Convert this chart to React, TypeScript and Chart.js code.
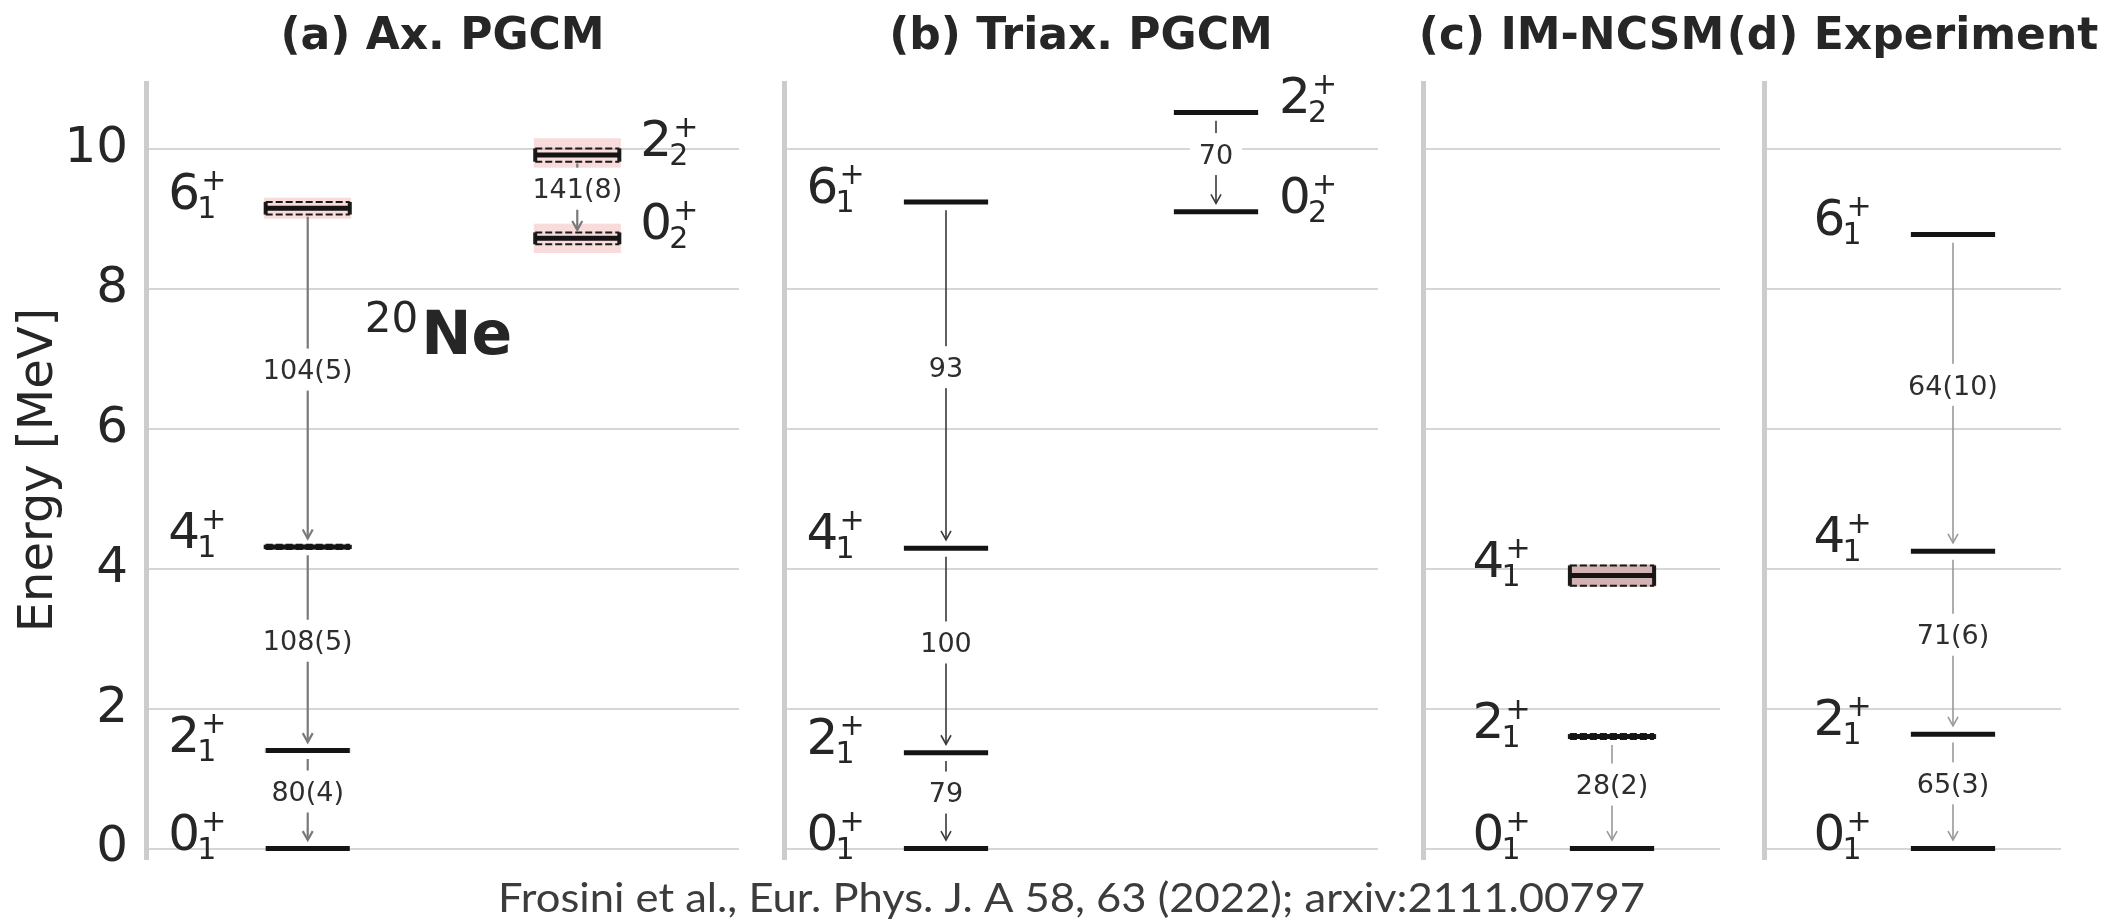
import { useEffect, useRef } from 'react';
import { Chart, registerables } from 'chart.js';

Chart.register(...registerables);

const PAGE_W = 2126;
const PAGE_H = 923;

// Energy axis (MeV)
const Y_MIN = -0.15;
const Y_MAX = 10.94;
const TICK_VALUES = [0, 2, 4, 6, 8, 10];
const TICK_LABELS = ['0', '2', '4', '6', '8', '10'];

const PANEL_TITLES = ['(a) Ax. PGCM', '(b) Triax. PGCM', '(c) IM-NCSM', '(d) Experiment'];

// (a) Axial PGCM: levels (spin, index, energy, outer band, inner error, column)
const AX_SPINS = ['0', '2', '4', '6', '0', '2'];
const AX_INDICES = ['1', '1', '1', '1', '2', '2'];
const AX_ENERGIES = [0, 1.4, 4.31, 9.15, 8.72, 9.91];
const AX_BAND = [0, 0.03, 0.045, 0.15, 0.21, 0.24];
const AX_ERR = [0, 0, 0.03, 0.09, 0.085, 0.095];
const AX_COLUMN = [0, 0, 0, 0, 1, 1];
const AX_FROM = [3, 2, 1, 5];
const AX_TO = [2, 1, 0, 4];
const AX_BE2 = ['104(5)', '108(5)', '80(4)', '141(8)'];

// (b) Triaxial PGCM
const TRI_SPINS = ['0', '2', '4', '6', '0', '2'];
const TRI_INDICES = ['1', '1', '1', '1', '2', '2'];
const TRI_ENERGIES = [0, 1.37, 4.29, 9.24, 9.1, 10.52];
const TRI_BAND = [0, 0, 0, 0, 0, 0];
const TRI_ERR = [0, 0, 0, 0, 0, 0];
const TRI_COLUMN = [0, 0, 0, 0, 1, 1];
const TRI_FROM = [3, 2, 1, 5];
const TRI_TO = [2, 1, 0, 4];
const TRI_BE2 = ['93', '100', '79', '70'];

// (c) IM-NCSM
const NCSM_SPINS = ['0', '2', '4'];
const NCSM_INDICES = ['1', '1', '1'];
const NCSM_ENERGIES = [0, 1.6, 3.9];
const NCSM_BAND = [0, 0, 0.16];
const NCSM_ERR = [0, 0.035, 0.145];
const NCSM_COLUMN = [0, 0, 0];
const NCSM_FROM = [1];
const NCSM_TO = [0];
const NCSM_BE2 = ['28(2)'];

// (d) Experiment
const EXP_SPINS = ['0', '2', '4', '6'];
const EXP_INDICES = ['1', '1', '1', '1'];
const EXP_ENERGIES = [0, 1.634, 4.248, 8.776];
const EXP_BAND = [0, 0, 0, 0];
const EXP_ERR = [0, 0, 0, 0];
const EXP_COLUMN = [0, 0, 0, 0];
const EXP_FROM = [3, 2, 1];
const EXP_TO = [2, 1, 0];
const EXP_BE2 = ['64(10)', '71(6)', '65(3)'];

const FOOTER = 'Frosini et al., Eur. Phys. J. A 58, 63 (2022); arxiv:2111.00797';

// Layout (pixels)
const PANEL_LEFT = [146, 784, 1423, 1764];
const PANEL_RIGHT = [739, 1378, 1720, 2061];
const PLOT_TOP = 83;
const PLOT_BOTTOM = 859;
const TICK_AXIS_W = 140; // room reserved for the tick labels of the first panel

const BAR_HALF = 0.78; // half length of a level bar, x units
const GAP = 0.12; // MeV between a level and its transition line
const LABEL_FS = 27;
const TEXT = '#262626';
const FONT = '"DejaVu Sans", sans-serif';

type Panel = {
  title: string;
  xMax: number;
  columns: number[];
  spins: string[];
  indices: string[];
  energies: number[];
  band: number[];
  err: number[];
  column: number[];
  from: number[];
  to: number[];
  labels: string[];
  lineColor: string;
  lineWidth: number;
  bandColor: string;
  showTicks: boolean;
};

const PANELS: Panel[] = [
  {
    title: PANEL_TITLES[0], xMax: 11, columns: [3, 8],
    spins: AX_SPINS, indices: AX_INDICES, energies: AX_ENERGIES, band: AX_BAND, err: AX_ERR, column: AX_COLUMN,
    from: AX_FROM, to: AX_TO, labels: AX_BE2,
    lineColor: '#7a7a7a', lineWidth: 2.2, bandColor: 'rgba(235,150,150,0.34)', showTicks: true,
  },
  {
    title: PANEL_TITLES[1], xMax: 11, columns: [3, 8],
    spins: TRI_SPINS, indices: TRI_INDICES, energies: TRI_ENERGIES, band: TRI_BAND, err: TRI_ERR, column: TRI_COLUMN,
    from: TRI_FROM, to: TRI_TO, labels: TRI_BE2,
    lineColor: '#3a3a3a', lineWidth: 1.6, bandColor: 'rgba(235,150,150,0.34)', showTicks: false,
  },
  {
    title: PANEL_TITLES[2], xMax: 5.5, columns: [3.5],
    spins: NCSM_SPINS, indices: NCSM_INDICES, energies: NCSM_ENERGIES, band: NCSM_BAND, err: NCSM_ERR, column: NCSM_COLUMN,
    from: NCSM_FROM, to: NCSM_TO, labels: NCSM_BE2,
    lineColor: '#9a9a9a', lineWidth: 1.6, bandColor: '#d4b3b3', showTicks: false,
  },
  {
    title: PANEL_TITLES[3], xMax: 5.5, columns: [3.5],
    spins: EXP_SPINS, indices: EXP_INDICES, energies: EXP_ENERGIES, band: EXP_BAND, err: EXP_ERR, column: EXP_COLUMN,
    from: EXP_FROM, to: EXP_TO, labels: EXP_BE2,
    lineColor: '#9a9a9a', lineWidth: 1.6, bandColor: '#d4b3b3', showTicks: false,
  },
];

function seg(x0: number, y0: number, x1: number, y1: number, extra: Record<string, unknown>) {
  return {
    data: [{ x: x0, y: y0 }, { x: x1, y: y1 }],
    showLine: true,
    pointRadius: 0,
    pointHoverRadius: 0,
    fill: false,
    ...extra,
  };
}

function buildDatasets(p: Panel) {
  const ds: any[] = [];
  p.energies.forEach((e, i) => {
    const c = p.columns[p.column[i]];
    const x0 = c - BAR_HALF;
    const x1 = c + BAR_HALF;
    if (p.band[i] > 0) {
      ds.push(seg(x0 - 0.03, e + p.band[i], x1 + 0.03, e + p.band[i], {
        borderColor: 'rgba(0,0,0,0)', borderWidth: 1, backgroundColor: p.bandColor,
        fill: { value: e - p.band[i] }, order: 6,
      }));
    }
    if (p.err[i] > 0) {
      for (const s of [1, -1]) {
        ds.push(seg(x0, e + s * p.err[i], x1, e + s * p.err[i], {
          borderColor: '#1a1a1a', borderWidth: 2, borderDash: [7, 3], order: 4,
        }));
      }
      for (const xe of [x0, x1]) {
        ds.push(seg(xe, e - p.err[i], xe, e + p.err[i], { borderColor: '#1a1a1a', borderWidth: 4, order: 3 }));
      }
    }
    ds.push(seg(x0, e, x1, e, { borderColor: '#141414', borderWidth: 5, order: 2 }));
  });
  p.from.forEach((f, k) => {
    const t = p.to[k];
    const c = p.columns[p.column[f]];
    ds.push(seg(c, p.energies[f] - GAP, c, p.energies[t] + GAP, {
      borderColor: p.lineColor, borderWidth: p.lineWidth, order: 5,
    }));
  });
  return ds;
}

function drawLevelLabel(ctx: CanvasRenderingContext2D, x0: number, yb: number, spin: string, idx: string) {
  ctx.fillStyle = TEXT;
  ctx.textAlign = 'left';
  ctx.textBaseline = 'alphabetic';
  ctx.font = `50px ${FONT}`;
  ctx.fillText(spin, x0, yb + 1);
  ctx.font = `30px ${FONT}`;
  ctx.fillText(idx, x0 + 29, yb + 10);
  ctx.fillText('+', x0 + 33, yb - 18);
}

function decor(p: Panel, i: number) {
  return {
    id: 'levelDecor' + i,
    afterDatasetsDraw(chart: any) {
      const { ctx } = chart;
      const xs = chart.scales.x;
      const ys = chart.scales.y;
      ctx.save();
      // arrowheads and B(E2) labels
      p.from.forEach((f: number, k: number) => {
        const t = p.to[k];
        const cx = xs.getPixelForValue(p.columns[p.column[f]]);
        const yTip = ys.getPixelForValue(p.energies[t] + GAP);
        ctx.strokeStyle = p.lineColor;
        ctx.lineWidth = p.lineWidth;
        ctx.setLineDash([]);
        ctx.beginPath();
        ctx.moveTo(cx - 5, yTip - 9);
        ctx.lineTo(cx, yTip);
        ctx.lineTo(cx + 5, yTip - 9);
        ctx.stroke();
        const yMid = ys.getPixelForValue((p.energies[f] + p.energies[t]) / 2) - 8;
        ctx.font = `${LABEL_FS}px ${FONT}`;
        const w = ctx.measureText(p.labels[k]).width;
        ctx.fillStyle = '#ffffff';
        ctx.fillRect(cx - w / 2 - 9, yMid - 21, w + 18, 42);
        ctx.fillStyle = '#2e2e2e';
        ctx.textAlign = 'center';
        ctx.textBaseline = 'alphabetic';
        ctx.fillText(p.labels[k], cx, yMid + 0.36 * LABEL_FS);
      });
      // spin-parity labels
      p.energies.forEach((e: number, j: number) => {
        const c = p.columns[p.column[j]];
        const yb = ys.getPixelForValue(e);
        const x0 = p.column[j] === 0
          ? xs.getPixelForValue(c - BAR_HALF) - 97.5
          : xs.getPixelForValue(c + BAR_HALF) + 21;
        drawLevelLabel(ctx, x0, yb, p.spins[j], p.indices[j]);
      });
      ctx.restore();
    },
    afterDraw(chart: any) {
      const { ctx, chartArea } = chart;
      ctx.save();
      ctx.fillStyle = TEXT;
      ctx.textAlign = 'center';
      ctx.textBaseline = 'alphabetic';
      ctx.font = `bold 44px ${FONT}`;
      ctx.fillText(p.title, (chartArea.left + chartArea.right) / 2, 49);
      if (i === 0) {
        const xs = chart.scales.x;
        const ys = chart.scales.y;
        // axis title
        ctx.save();
        ctx.translate(40, 470);
        ctx.rotate(-Math.PI / 2);
        ctx.font = `48px ${FONT}`;
        ctx.textBaseline = 'middle';
        ctx.fillText('Energy [MeV]', 0, 0);
        ctx.restore();
        // nucleus tag
        const nx = xs.getPixelForValue(4.06);
        const ny = ys.getPixelForValue(7.06);
        ctx.textAlign = 'left';
        ctx.font = `42px ${FONT}`;
        ctx.fillText('20', nx, ny - 22);
        const w20 = ctx.measureText('20').width;
        ctx.font = `bold 60px ${FONT}`;
        ctx.fillText('Ne', nx + w20 + 3, ny);
        // reference line
        ctx.font = '40px Lato, "Open Sans", sans-serif';
        ctx.fillStyle = '#3c3c3c';
        const fw = ctx.measureText(FOOTER).width;
        const sx = 1147 / fw;
        ctx.save();
        ctx.translate(1071.5, 912);
        ctx.scale(sx, 1);
        ctx.textAlign = 'center';
        ctx.fillText(FOOTER, 0, 0);
        ctx.restore();
      }
      ctx.restore();
    },
  };
}

function buildConfig(p: Panel, i: number): any {
  const axisW = p.showTicks ? TICK_AXIS_W : 0;
  return {
    type: 'scatter',
    data: { datasets: buildDatasets(p) },
    options: {
      animation: false,
      responsive: false,
      events: [],
      layout: {
        padding: {
          left: PANEL_LEFT[i] - axisW,
          right: PAGE_W - PANEL_RIGHT[i],
          top: PLOT_TOP,
          bottom: PAGE_H - PLOT_BOTTOM,
        },
      },
      plugins: { legend: { display: false }, tooltip: { enabled: false }, title: { display: false } },
      scales: {
        x: { type: 'linear', min: 0, max: p.xMax, display: false },
        y: {
          type: 'linear',
          position: 'left',
          min: Y_MIN,
          max: Y_MAX,
          afterBuildTicks: (s: any) => { s.ticks = TICK_VALUES.map((v) => ({ value: v })); },
          afterFit: (s: any) => { s.width = axisW; },
          grid: { color: '#d6d6d6', lineWidth: 2, drawTicks: false },
          border: { display: true, color: '#cccccc', width: 5 },
          ticks: {
            display: p.showTicks,
            padding: 18,
            color: TEXT,
            font: { family: 'DejaVu Sans', size: 50 },
            autoSkip: false,
            callback: (v: number) => {
              const k = TICK_VALUES.indexOf(v);
              return k >= 0 ? TICK_LABELS[k] : '';
            },
          },
        },
      },
    },
    plugins: [decor(p, i)],
  };
}

export default function App() {
  const refs = useRef<(HTMLCanvasElement | null)[]>([]);
  useEffect(() => {
    const charts = PANELS.map((p, i) => new Chart(refs.current[i] as HTMLCanvasElement, buildConfig(p, i)));
    return () => charts.forEach((c) => c.destroy());
  }, []);
  return (
    <div style={{ position: 'absolute', left: 0, top: 0, width: PAGE_W, height: PAGE_H, background: '#ffffff', overflow: 'hidden' }}>
      {PANELS.map((_, i) => (
        <canvas
          key={i}
          ref={(el) => { refs.current[i] = el; }}
          width={PAGE_W}
          height={PAGE_H}
          style={{ position: 'absolute', left: 0, top: 0 }}
        />
      ))}
    </div>
  );
}
